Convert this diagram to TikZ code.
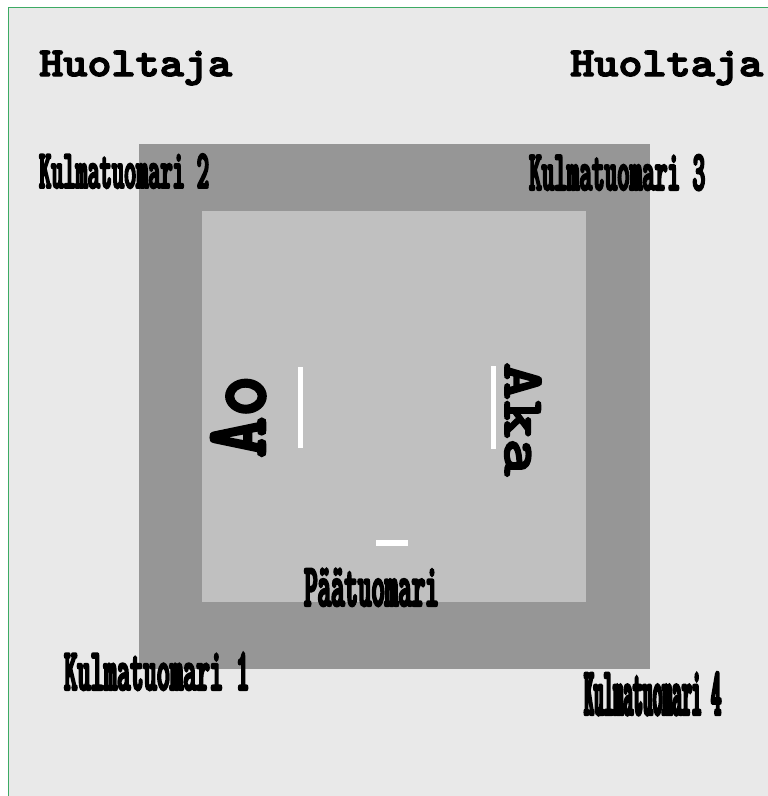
\documentclass[tikz,border=0pt]{standalone}
\usepackage{fontspec}
\usepackage{xcolor}
\newfontfamily\huolfont[FakeStretch=1.12, FakeBold=3.5]{lmmonolt10-bold.otf}
\newfontfamily\kulmafont[FakeStretch=0.42, FakeBold=3.5]{lmmonolt10-bold.otf}
\newfontfamily\kulmanarrow[FakeStretch=0.27, FakeBold=3.5]{lmmonolt10-bold.otf}
\newfontfamily\aofont[FakeStretch=0.9, FakeBold=3]{lmmonolt10-bold.otf}
\newfontfamily\akafont[FakeStretch=1.25, FakeBold=3]{lmmonolt10-bold.otf}
\definecolor{hallbg}{HTML}{E9E9E9}
\definecolor{matgray}{HTML}{969696}
\definecolor{areagray}{HTML}{C0C0C0}
\definecolor{edgegreen}{RGB}{60,170,100}
\tikzset{
  huoltext/.style  = {font=\huolfont\fontsize{41}{41}\selectfont,
                      anchor=base west, inner sep=0pt},
  kulmatext/.style = {font={\kulmafont\fontsize{#1}{#1}\selectfont},
                      anchor=base west, inner sep=0pt},
  linebar/.style   = {fill=white, draw=none}
}
\begin{document}
\begin{tikzpicture}[x=1pt, y=-1pt]
  \useasboundingbox (0,0) rectangle (768,796);
  % Hall and mat
  \fill[white] (0,0) rectangle (768,796);
  \fill[hallbg] (8,7) rectangle (768,796);
  \draw[edgegreen, line width=1pt] (768,7) -- (8,7) -- (8,796);
  \fill[matgray] (139,144) rectangle (650,669);
  \fill[areagray] (202,211) rectangle (586,602);

  % Start lines
  \fill[linebar] (298,367) rectangle (303,448);
  \fill[linebar] (491,366) rectangle (496,449);
  \fill[linebar] (376,540) rectangle (408,546);

  % Coaches
  \node[huoltext] (huol1) at (39,76) {Huoltaja};
  \node[huoltext] (huol2) at (570,76) {Huoltaja};

  % Corner judges
  \node[kulmatext=55] (kulma2) at (39,188) {Kulmatuomari 2};
  \node[kulmatext=57] (kulma3) at (529,190) {Kulmatuomari 3};
  \node[kulmatext=60] (kulma1) at (64,690) {Kulmatuomari 1};
  \node[anchor=base west, inner sep=0pt,
        font=\kulmanarrow\fontsize{69}{69}\selectfont]
    (kulma4) at (584,715) {Kulmatuomari 4};

  % Referee
  \node[kulmatext=61] (paatuomari) at (304,606) {Päätuomari};

  % Competitors
  \node[anchor=base west, inner sep=0pt, rotate=90,
        font=\aofont\fontsize{87}{87}\selectfont] (ao) at (265,458) {Ao};
  \node[anchor=base west, inner sep=0pt, rotate=-90,
        font=\akafont\fontsize{58}{58}\selectfont] (aka) at (505,362) {Aka};
\end{tikzpicture}
\end{document}
